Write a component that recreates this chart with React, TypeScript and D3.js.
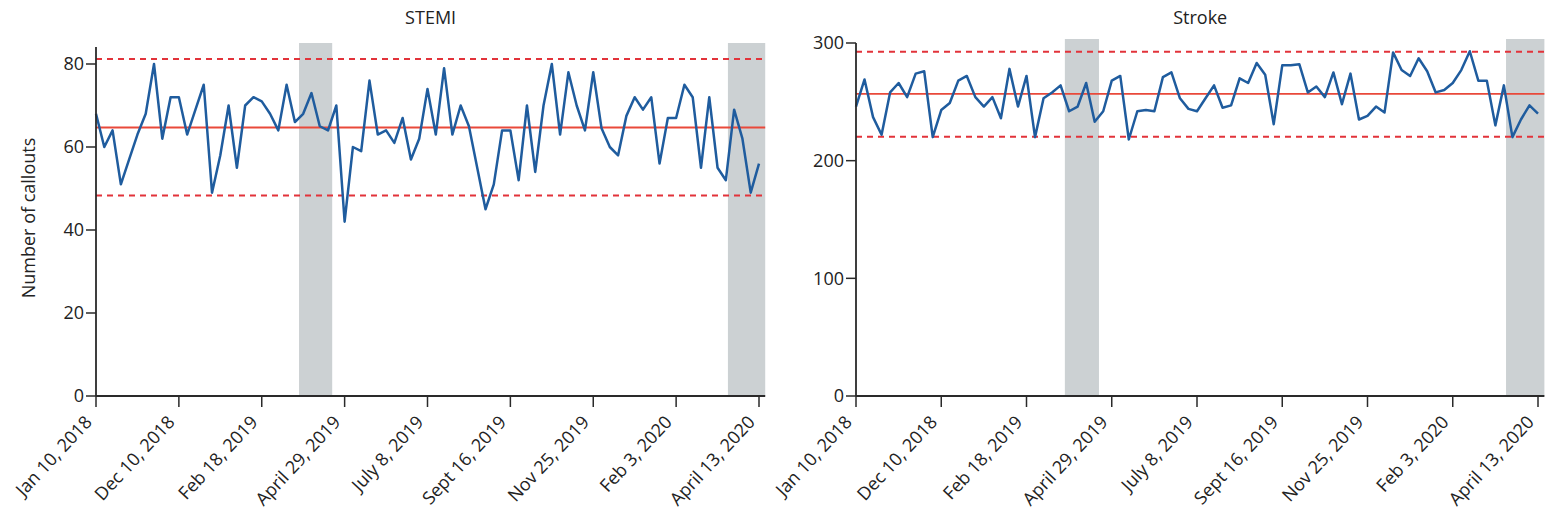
import React from "react";
import * as d3 from "d3";

const tickLabels = [
  "Jan 10, 2018",
  "Dec 10, 2018",
  "Feb 18, 2019",
  "April 29, 2019",
  "July 8, 2019",
  "Sept 16, 2019",
  "Nov 25, 2019",
  "Feb 3, 2020",
  "April 13, 2020",
];

const stemiValues = [
  68, 60, 64, 51, 57, 63, 68, 80, 62, 72, 72, 63, 69, 75, 49, 58, 70, 55, 70, 72,
  71, 68, 64, 75, 66, 68, 73, 65, 64, 70, 42, 60, 59, 76, 63, 64, 61, 67, 57, 62,
  74, 63, 79, 63, 70, 65, 55, 45, 51, 64, 64, 52, 70, 54, 70, 80, 63, 78, 70, 64,
  78, 64.5, 60, 58, 67.5, 72, 69, 72, 56, 67, 67, 75, 72, 55, 72, 55, 52, 69, 62, 49,
  56,
];
const stemiStats = { mean: 64.7, upper: 81.2, lower: 48.3 };

const strokeValues = [
  246, 269, 237, 222, 258, 266, 254, 274, 276, 220, 243, 249, 268, 272, 254, 246, 254, 236, 278, 246,
  272, 220, 253, 258, 264, 242, 246, 266, 233, 242, 268, 272, 218, 242, 243, 242, 271, 275, 253, 244,
  242, 253, 264, 245, 247, 270, 266, 283, 273, 231, 281, 281, 282, 258, 263, 254, 275, 248, 274, 235,
  238, 246, 241, 292, 277, 272, 287, 276, 258, 260, 266, 277, 293, 268, 268, 230, 264, 220, 235, 247,
  240,
];
const strokeStats = { mean: 256.7, upper: 292.5, lower: 220.4 };

const bands = [
  [24.5, 28.5],
  [76.25, 80.75],
];

const FONT = "'Open Sans', 'DejaVu Sans', sans-serif";
const FS = 18;

type PanelProps = {
  title: string;
  values: number[];
  stats: { mean: number; upper: number; lower: number };
  x0: number;
  x80: number;
  yTop: number;
  yMax: number;
  yTicks: number[];
  yLabel?: string;
};

function Panel({ title, values, stats, x0, x80, yTop, yMax, yTicks, yLabel }: PanelProps) {
  const xMaxIdx = 80.75;
  const x = d3.scaleLinear().domain([0, 80]).range([x0, x80]);
  const yBottom = 396;
  const y = d3.scaleLinear().domain([0, yMax]).range([yBottom, yTop]);
  const line = d3
    .line<number>()
    .x((_, i) => x(i))
    .y((d) => y(d));
  const xEnd = x(xMaxIdx);
  const axisTop = y(yMax) - (yLabel ? 17 : 0);
  const tickIdx = tickLabels.map((_, i) => i * 10);
  const stroke = "#2a2a2a";
  return (
    <g>
      <text x={(x0 + xEnd) / 2} y={24} textAnchor="middle" fontSize={FS} fill="#222" fontFamily={FONT}>
        {title}
      </text>
      {bands.map((b, i) => (
        <rect key={i} x={x(b[0])} y={axisTop - 4} width={x(b[1]) - x(b[0])} height={yBottom - axisTop + 4} fill="#ccd1d3" />
      ))}
      {[stats.upper, stats.lower].map((v, i) => (
        <line key={i} x1={x0} x2={xEnd} y1={y(v)} y2={y(v)} stroke="#e2333a" strokeWidth={2} strokeDasharray="6,5" />
      ))}
      <line x1={x0} x2={xEnd} y1={y(stats.mean)} y2={y(stats.mean)} stroke="#e9493a" strokeWidth={1.8} />
      <path d={line(values) || ""} fill="none" stroke="#1f5c9e" strokeWidth={2.5} strokeLinejoin="round" />
      <line x1={x0} x2={x0} y1={axisTop} y2={yBottom} stroke={stroke} strokeWidth={1.8} />
      <line x1={x0} x2={xEnd} y1={yBottom} y2={yBottom} stroke={stroke} strokeWidth={1.8} />
      {yTicks.map((t) => (
        <g key={t}>
          <line x1={x0 - 10} x2={x0} y1={y(t)} y2={y(t)} stroke={stroke} strokeWidth={1.5} />
          <text x={x0 - 12} y={y(t)} dy="0.35em" textAnchor="end" fontSize={FS} fill="#222" fontFamily={FONT}>
            {t}
          </text>
        </g>
      ))}
      {tickIdx.map((t, i) => (
        <g key={t}>
          <line x1={x(t)} x2={x(t)} y1={yBottom} y2={yBottom + 11} stroke={stroke} strokeWidth={1.5} />
          <text
            transform={`translate(${x(t) - 3},${yBottom + 27}) rotate(-47)`}
            textAnchor="end"
            fontSize={FS}
            fill="#222"
            fontFamily={FONT}
          >
            {tickLabels[i]}
          </text>
        </g>
      ))}
      {yLabel && (
        <text
          transform={`translate(${35},${218}) rotate(-90)`}
          textAnchor="middle"
          fontSize={FS}
          fill="#222"
          fontFamily={FONT}
        >
          {yLabel}
        </text>
      )}
    </g>
  );
}

export default function App() {
  return (
    <svg
      width={1549}
      height={517}
      style={{ position: "absolute", left: 0, top: 0, background: "#fff" }}
    >
      <Panel
        title="STEMI"
        values={stemiValues}
        stats={stemiStats}
        x0={96}
        x80={759}
        yTop={64}
        yMax={80}
        yTicks={[0, 20, 40, 60, 80]}
        yLabel="Number of callouts"
      />
      <Panel
        title="Stroke"
        values={strokeValues}
        stats={strokeStats}
        x0={856}
        x80={1538}
        yTop={43}
        yMax={300}
        yTicks={[0, 100, 200, 300]}
      />
    </svg>
  );
}
